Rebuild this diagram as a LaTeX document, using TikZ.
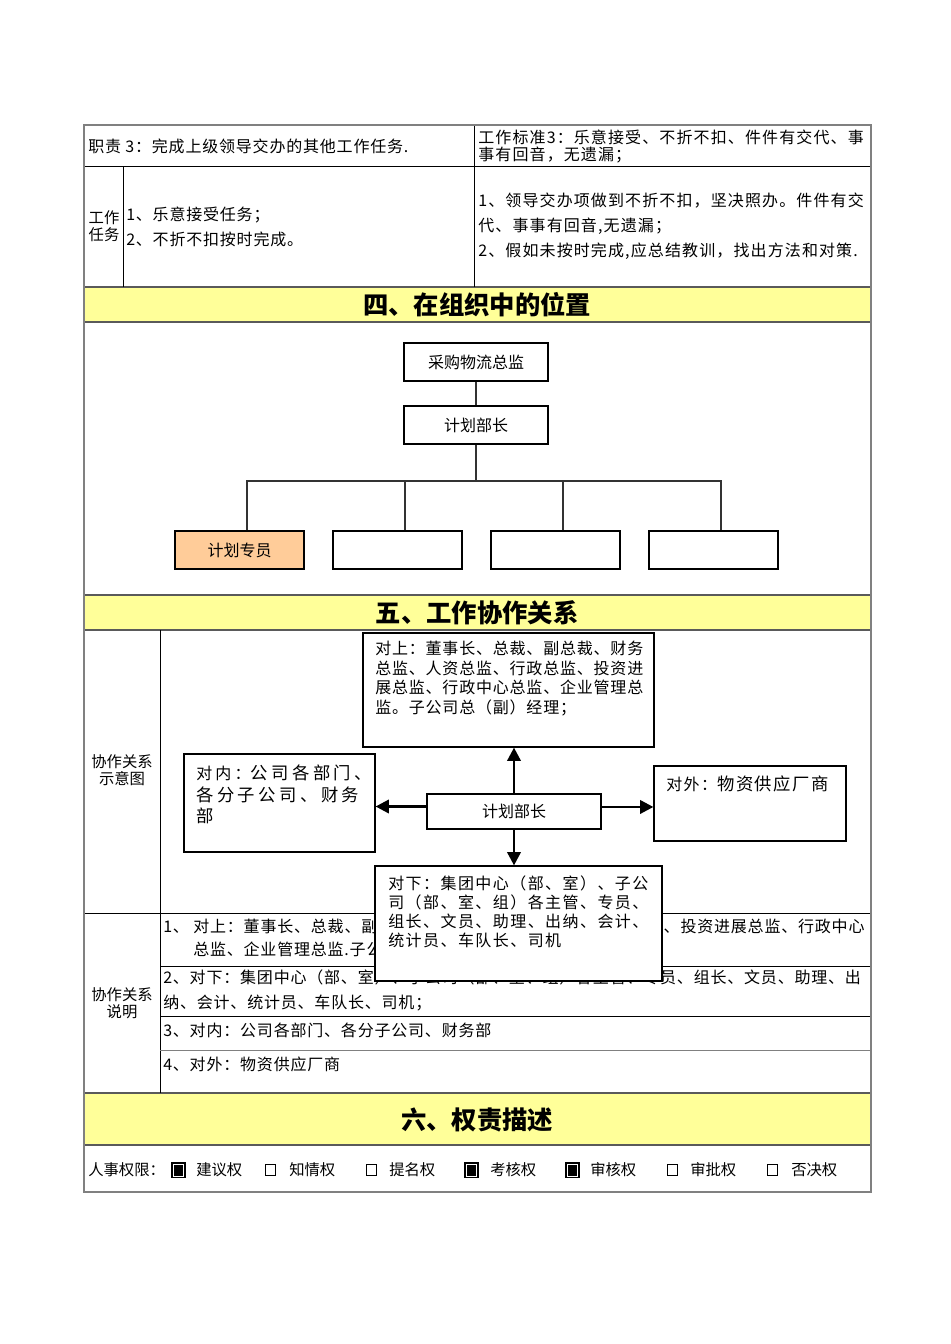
\documentclass[tikz,border=0pt]{standalone}
\usepackage{fontspec}
\setmainfont{Noto Sans CJK SC}
\usetikzlibrary{arrows.meta}

\definecolor{hdryellow}{RGB}{255,255,153}
\definecolor{tangerine}{RGB}{255,204,153}
\definecolor{rulegray}{RGB}{128,128,128}

\begin{document}
\begin{tikzpicture}[
    x=0.75pt, y=-0.75pt,
    txt/.style={anchor=west,align=left,inner sep=0pt,font=\fontsize{12}{14}\selectfont\addfontfeatures{LetterSpace=5}},
    hdr/.style={inner sep=0pt,font=\fontsize{19}{22}\selectfont\bfseries},
    lbl/.style={align=center,inner sep=0pt,font=\fontsize{11.5}{12.75}\selectfont},
    org box/.style={draw,line width=0.8pt,minimum width=108pt,minimum height=28.5pt,inner sep=0pt,font=\fontsize{12}{14}\selectfont},
    leaf/.style={org box,minimum width=96.75pt},
    co box/.style={draw,line width=0.9pt,fill=white,inner sep=0pt},
    flow/.style={line width=2pt,-{Triangle[length=10pt,width=10pt]}},
    tick on/.style={draw=black,fill=black,line width=0.75pt,minimum width=10.5pt,minimum height=11.5pt,inner sep=0pt,
        path picture={\draw[white,line width=0.5pt] ([shift={(1.3pt,-1.3pt)}]path picture bounding box.north west) rectangle ([shift={(-1.3pt,1.3pt)}]path picture bounding box.south east);}},
    tick off/.style={draw,line width=0.5pt,minimum width=7.5pt,minimum height=8pt,inner sep=0pt}
]
\useasboundingbox (0,0) rectangle (950,1344);

% yellow section bands
\fill[hdryellow] (84,287) rectangle (871,322);
\fill[hdryellow] (84,595) rectangle (871,630);
\fill[hdryellow] (84,1093) rectangle (871,1145);
\foreach \yy in {287,322,595,630,1093,1145}
    \draw[rulegray!70!black,line width=1.3pt] (84,\yy) -- (871,\yy);

% table rules
\draw[line width=0.75pt] (84,167) -- (871,167);
\draw[line width=0.75pt] (474,125) -- (474,287);
\draw[line width=0.75pt] (123,167) -- (123,287);
\draw[line width=0.75pt] (160,630) -- (160,1093);
\draw[line width=0.75pt] (84,913) -- (871,913);
\draw[line width=0.75pt] (160,966) -- (871,966);
\draw[line width=0.75pt] (160,1016) -- (871,1016);
\draw[line width=0.75pt,rulegray] (160,1050) -- (871,1050);

% duty rows
\node[txt] (duty) at (88,146) {职责 3：完成上级领导交办的其他工作任务.};
\node[txt,font=\fontsize{12}{12.75}\selectfont\addfontfeatures{LetterSpace=7}] (std) at (478,146.5) {工作标准3：乐意接受、不折不扣、件件有交代、事\\事有回音，无遗漏；};
\node[lbl] (tasklbl) at (104,226.5) {工作\\任务};
\node[txt,font=\fontsize{12}{18.75}\selectfont\addfontfeatures{LetterSpace=5}] (tasks) at (126,226.5) {1、乐意接受任务；\\2、不折不扣按时完成。};
\node[txt,font=\fontsize{12}{18.75}\selectfont\addfontfeatures{LetterSpace=7}] (taskstd) at (478,226) {1、领导交办项做到不折不扣，坚决照办。件件有交\\代、事事有回音,无遗漏；\\2、假如未按时完成,应总结教训，找出方法和对策.};

% section titles
\node[hdr] (h4) at (477,305) {四、在组织中的位置};
\node[hdr] (h5) at (477,613) {五、工作协作关系};
\node[hdr] (h6) at (477,1120) {六、权责描述};

% org chart
\node[org box] (dir) at (476,362) {采购物流总监};
\node[org box] (mgr) at (476,425) {计划部长};
\node[leaf,fill=tangerine] (e1) at (239.5,550) {计划专员};
\node[leaf] (e2) at (397.5,550) {};
\node[leaf] (e3) at (555.5,550) {};
\node[leaf] (e4) at (713.5,550) {};
\coordinate (bar) at (476,481);
\draw[line width=0.9pt,black!80] (dir) -- (mgr);
\draw[line width=0.9pt,black!80] (mgr.south) -- (bar);
\draw[line width=0.9pt,black!80] ([xshift=5.6pt]e1.north) -- ([xshift=5.6pt]e1.north |- bar) -- ([xshift=5.6pt]e4.north |- bar) -- ([xshift=5.6pt]e4.north);
\draw[line width=0.9pt,black!80] ([xshift=5.6pt]e2.north) -- ([xshift=5.6pt]e2.north |- bar);
\draw[line width=0.9pt,black!80] ([xshift=5.6pt]e3.north) -- ([xshift=5.6pt]e3.north |- bar);

% cooperation notes
\node[lbl] (colbl) at (122,770.5) {协作关系\\示意图};
\node[lbl] (notelbl) at (122,1003.5) {协作关系\\说明};
\node[txt] (note1) at (163,926) {1、 对上：董事长、总裁、副总裁、财务总监、人资总监、行政总监、投资进展总监、行政中心};
\node[txt] (note1b) at (193,950) {总监、企业管理总监.子公司总（副）经理；};
\node[txt,font=\fontsize{12}{18.75}\selectfont\addfontfeatures{LetterSpace=5}] (note2) at (163,990.5) {2、对下：集团中心（部、室）、子公司（部、室、组）各主管、专员、组长、文员、助理、出\\纳、会计、统计员、车队长、司机；};
\node[txt] (note3) at (163,1030) {3、对内：公司各部门、各分子公司、财务部};
\node[txt] (note4) at (163,1064) {4、对外：物资供应厂商};

% cooperation diagram
\node[co box,minimum width=218.25pt,minimum height=85.5pt] (upward) at (508.5,690) {};
\node[co box,minimum width=143.25pt,minimum height=73.5pt] (inward) at (279.5,803) {};
\node[co box,minimum width=130.5pt,minimum height=26.25pt,font=\fontsize{12}{14}\selectfont] (ctr) at (514,811.5) {计划部长};
\node[co box,minimum width=144pt,minimum height=56.25pt] (outward) at (750,803.5) {};
\node[co box,minimum width=215.25pt,minimum height=86.25pt] (downward) at (518.5,923.5) {};

\node[txt,font=\fontsize{12}{14.6}\selectfont\addfontfeatures{LetterSpace=5}] (uptxt) at (375,678.5) {对上：董事长、总裁、副总裁、财务\\总监、人资总监、行政总监、投资进\\展总监、行政中心总监、企业管理总\\监。子公司总（副）经理；};
\node[txt,font=\fontsize{13}{16}\selectfont\addfontfeatures{LetterSpace=20}] (intxt) at (196,794.5) {{\fontsize{12}{16}\selectfont 对内：}公司各部门、\\各分子公司、财务\\部};
\node[txt,font=\fontsize{13}{16}\selectfont\addfontfeatures{LetterSpace=9}] (outtxt) at (666,784) {{\fontsize{12}{16}\selectfont 对外：}物资供应厂商};
\node[txt,font=\fontsize{12}{14.25}\selectfont\addfontfeatures{LetterSpace=9}] (downtxt) at (388,911.5) {对下：集团中心（部、室）、子公\\司（部、室、组）各主管、专员、\\组长、文员、助理、出纳、会计、\\统计员、车队长、司机};

\coordinate (lt) at ([yshift=3.75pt]ctr.west);
\coordinate (rt) at ([yshift=3.4pt]ctr.east);
\draw[flow] (ctr.north) -- (ctr.north |- upward.south);
\draw[flow] (ctr.south) -- (ctr.south |- downward.north);
\draw[flow] (lt) -- (lt -| inward.east);
\draw[flow] (rt) -- (rt -| outward.west);

% personnel rights
\node[txt,font=\fontsize{11.5}{14}\selectfont] (rights) at (88,1170) {人事权限：};
\foreach \bx/\tx/\st/\nm/\lab in {178.5/196/tick on/1/建议权, 270/289/tick off/2/知情权, 371/389/tick off/3/提名权,
    471.5/490/tick on/4/考核权, 572.5/590/tick on/5/审核权, 672/690/tick off/6/审批权, 772/791/tick off/7/否决权}
{
    \node[\st] (box\nm) at (\bx,1170) {};
    \node[txt,font=\fontsize{11.5}{14}\selectfont] (right\nm) at (\tx,1170) {\lab};
}

% outer frame
\draw[rulegray,line width=1.6pt] (84,125) rectangle (871,1192);
\end{tikzpicture}
\end{document}
